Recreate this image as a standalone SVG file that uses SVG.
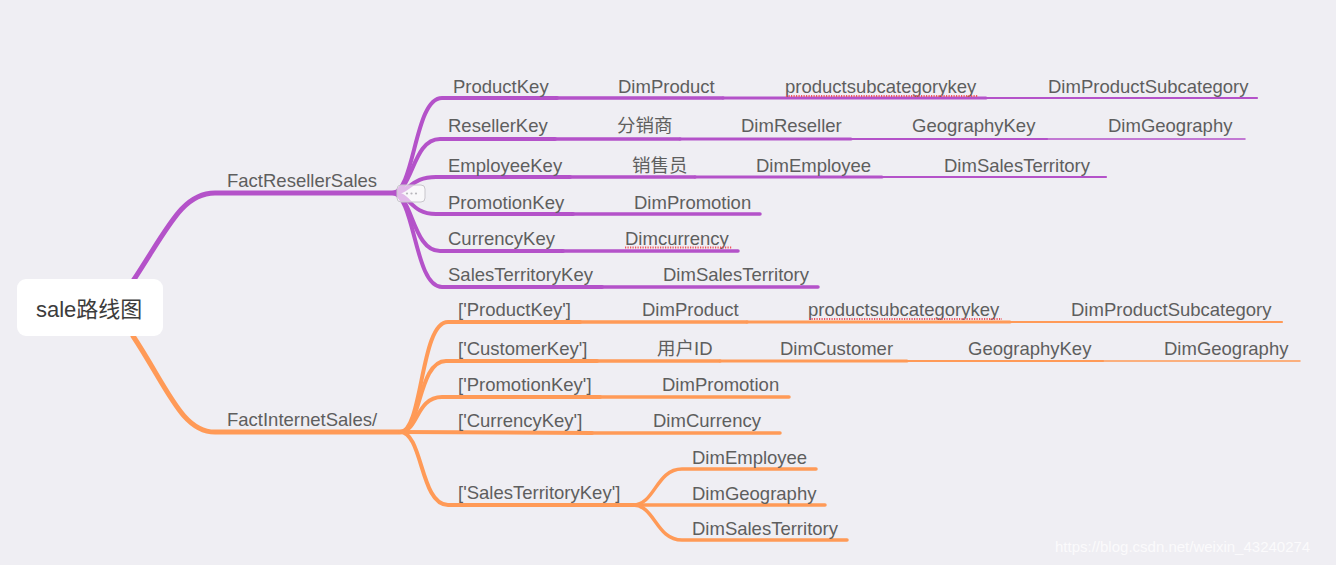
<svg xmlns="http://www.w3.org/2000/svg" width="1336" height="565" viewBox="0 0 1336 565">
<style>
.t{font-family:"Liberation Sans",Arial,"Noto Sans CJK SC",sans-serif;font-size:18.5px;fill:#5e5e5e}
.p{fill:none;stroke:#b452c9;stroke-linecap:round}
.o{fill:none;stroke:#ff9a57;stroke-linecap:round}
.sp{fill:none;stroke:#f0555c;stroke-width:2;stroke-dasharray:1.2 1.3}
</style>
<rect width="1336" height="565" fill="#efeef3"/>
<g id="connectors">
<path class="p" stroke-width="5" d="M133 281 C168 228 182 193 215 193 L392 193"/>
<path class="o" stroke-width="5" d="M133 336 C168 389 182 432 215 432 L400 432"/>
<g stroke-width="4">
<path class="p" d="M392 193 C415 193 414 98 442 98 L557 98"/>
<path class="p" d="M392 193 C413 193 412 139 440 139 L555 139"/>
<path class="p" d="M392 193 C410 193 410 177 436 177 L570 177"/>
<path class="p" d="M392 193 C410 193 410 214 436 214 L573 214"/>
<path class="p" d="M392 193 C413 193 412 251 440 251 L563 251"/>
<path class="p" d="M392 193 C415 193 414 287 442 287 L602 287"/>
<path class="o" d="M400 432 C423 432 420 322 448 322 L580 322"/>
<path class="o" d="M400 432 C421 432 418 361 446 361 L597 361"/>
<path class="o" d="M400 432 C418 432 416 397 442 397 L600 397"/>
<path class="o" d="M400 432 L592 433"/>
<path class="o" d="M400 432 C423 432 420 505 448 505 L633 505"/>
</g>
<g stroke-width="3.5">
<path class="p" d="M557 98 L723 98"/>
<path class="p" d="M555 139 L680 139"/>
<path class="p" d="M570 177 L695 177"/>
<path class="p" d="M573 214 L760 214"/>
<path class="p" d="M563 251 L738 251"/>
<path class="p" d="M602 287 L818 287"/>
<path class="o" d="M580 322 L747 322"/>
<path class="o" d="M597 361 L720 361"/>
<path class="o" d="M600 397 L789 397"/>
<path class="o" d="M592 433 L780 433"/>
<path class="o" d="M633 505 C655 505 656 469 682 469 L816 469"/>
<path class="o" d="M633 505 L825 505"/>
<path class="o" d="M633 505 C655 505 656 540 682 540 L847 540"/>
</g>
<g stroke-width="3">
<path class="p" d="M723 98 L986 98"/>
<path class="p" d="M680 139 L851 139"/>
<path class="p" d="M695 177 L882 177"/>
<path class="o" d="M747 322 L1010 322"/>
<path class="o" d="M720 361 L907 361"/>
</g>
<g stroke-width="2.2">
<path class="p" d="M986 98 L1257 98"/>
<path class="p" d="M851 139 L1047 139"/>
<path class="p" d="M882 177 L1106 177"/>
<path class="o" d="M1010 322 L1282 322"/>
<path class="o" d="M907 361 L1103 361"/>
</g>
<g stroke-width="1.5">
<path class="p" d="M1047 139 L1245 139"/>
<path class="o" d="M1103 361 L1300 361"/>
</g>
</g>
<g id="collapse">
<rect x="397" y="185" width="28" height="17" rx="4" fill="#ffffff" fill-opacity="0.6" stroke="#c8c6cc" stroke-width="1"/>
<g fill="#b8b6bc"><circle cx="407" cy="193.5" r="1.1"/><circle cx="411.5" cy="193.5" r="1.1"/><circle cx="416" cy="193.5" r="1.1"/></g>
</g>
<g id="root">
<rect x="17" y="279" width="146" height="57" rx="9" fill="#ffffff"/>
<text x="36" y="317" style="font-family:'Liberation Sans',Arial,'Noto Sans CJK SC',sans-serif;font-size:22px;fill:#3c3c3c">sale路线图</text>
</g>
<g id="FactResellerSales"><text class="t" x="227" y="187">FactResellerSales</text></g>
<g id="FactInternetSales"><text class="t" x="227" y="426">FactInternetSales/</text></g>
<g id="reseller-rows">
<text class="t" x="453" y="93">ProductKey</text>
<text class="t" x="618" y="93">DimProduct</text>
<text class="t" x="785" y="93">productsubcategorykey</text>
<path class="sp" d="M786 96 L978 96"/>
<text class="t" x="1048" y="93">DimProductSubcategory</text>
<text class="t" x="448" y="132">ResellerKey</text>
<text class="t" x="617" y="132">分销商</text>
<text class="t" x="741" y="132">DimReseller</text>
<text class="t" x="912" y="132">GeographyKey</text>
<text class="t" x="1108" y="132">DimGeography</text>
<text class="t" x="448" y="172">EmployeeKey</text>
<text class="t" x="632" y="172">销售员</text>
<text class="t" x="756" y="172">DimEmployee</text>
<text class="t" x="944" y="172">DimSalesTerritory</text>
<text class="t" x="448" y="209">PromotionKey</text>
<text class="t" x="634" y="209">DimPromotion</text>
<text class="t" x="448" y="245">CurrencyKey</text>
<text class="t" x="625" y="245">Dimcurrency</text>
<path class="sp" d="M625 247.5 L732 247.5"/>
<text class="t" x="448" y="281">SalesTerritoryKey</text>
<text class="t" x="663" y="281">DimSalesTerritory</text>
</g>
<g id="internet-rows">
<text class="t" x="458" y="316">['ProductKey']</text>
<text class="t" x="642" y="316">DimProduct</text>
<text class="t" x="808" y="316">productsubcategorykey</text>
<path class="sp" d="M809 319 L1002 319"/>
<text class="t" x="1071" y="316">DimProductSubcategory</text>
<text class="t" x="458" y="355">['CustomerKey']</text>
<text class="t" x="657" y="355">用户ID</text>
<text class="t" x="780" y="355">DimCustomer</text>
<text class="t" x="968" y="355">GeographyKey</text>
<text class="t" x="1164" y="355">DimGeography</text>
<text class="t" x="458" y="391">['PromotionKey']</text>
<text class="t" x="662" y="391">DimPromotion</text>
<text class="t" x="458" y="427">['CurrencyKey']</text>
<text class="t" x="653" y="427">DimCurrency</text>
<text class="t" x="458" y="499">['SalesTerritoryKey']</text>
<text class="t" x="692" y="464">DimEmployee</text>
<text class="t" x="692" y="500">DimGeography</text>
<text class="t" x="692" y="535">DimSalesTerritory</text>
</g>
<text x="1055" y="552" style="font-family:'Liberation Sans',Arial,sans-serif;font-size:15px;fill:#ffffff;fill-opacity:0.75">https://blog.csdn.net/weixin_43240274</text>
</svg>
